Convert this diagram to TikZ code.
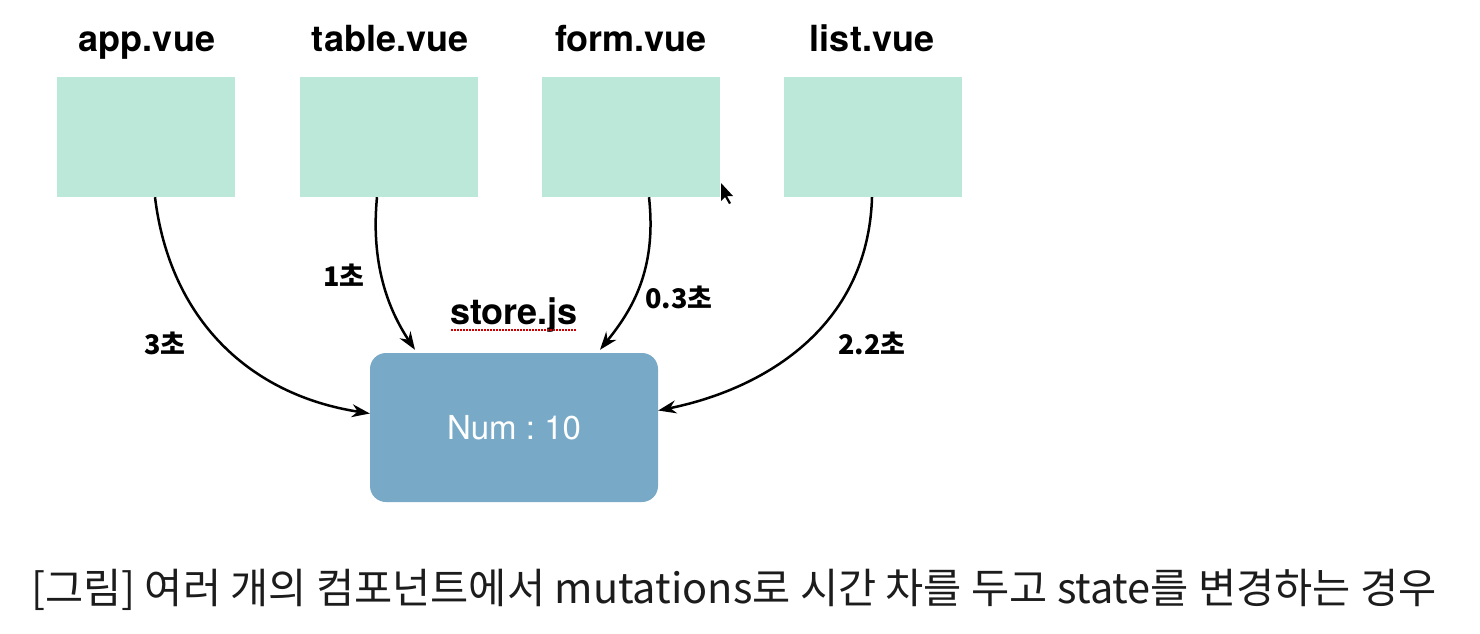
\documentclass[tikz,border=0pt]{standalone}
\usepackage{fontspec}
\setmainfont{TeX Gyre Heros}
\newfontfamily\kr{Noto Sans CJK KR}
\usetikzlibrary{arrows.meta}
\definecolor{boxgreen}{HTML}{BCE8DA}
\definecolor{storeblue}{HTML}{78AAC8}
\definecolor{captext}{HTML}{1C1C1C}
\tikzset{
  comp/.style={fill=boxgreen, minimum width=178pt, minimum height=120pt, inner sep=0pt},
  compname/.style={font=\fontsize{36}{40}\selectfont\bfseries, text=black, anchor=base, inner sep=0pt},
  storebox/.style={fill=storeblue, rounded corners=16pt, minimum width=288pt, minimum height=149pt, inner sep=0pt, text=white, font=\fontsize{33}{36}\selectfont\frenchspacing},
  flow/.style={line width=2.5pt, -{Stealth[length=18pt,width=13pt]}},
  timelbl/.style={font=\kr\fontsize{27}{30}\selectfont\bfseries, text=black},
}
\begin{document}
\begin{tikzpicture}[x=1pt,y=-1pt]
\useasboundingbox[fill=white] (0,0) rectangle (1480,634);
% component boxes
\node[comp] (app) at (146,137) {};
\node[comp] (table) at (389,137) {};
\node[comp] (form) at (631,137) {};
\node[comp] (list) at (873,137) {};
\node[compname] (appn) at (147,52) {app.vue};
\node[compname] (tablen) at (390,52) {table.vue};
\node[compname] (formn) at (631,52) {form.vue};
\node[compname] (listn) at (872,52) {list.vue};
% store
\node[storebox] (store) at (514,427.5) {Num : 10};
\node[font=\fontsize{36}{40}\selectfont\bfseries, anchor=base, inner sep=0pt] (storen) at (514,324) {store.js};
\coordinate (ul1) at (451,330);
\coordinate (ul2) at (577,330);
\draw[red!80!black, line width=1.3pt, dash pattern=on 1.5pt off 1.5pt] (ul1) -- (ul2);
% connectors
\draw[flow] ([xshift=9pt]app.south) .. controls (170,320) and (250,395) .. ([yshift=14pt]store.west);
\draw[flow] ([xshift=-12pt]table.south) .. controls (370,270) and (392,315) .. ([xshift=-99pt,yshift=3pt]store.north);
\draw[flow] ([xshift=18pt]form.south) .. controls (657,270) and (632,310) .. ([xshift=86pt,yshift=3pt]store.north);
\draw[flow] ([xshift=-1pt]list.south) .. controls (868,330) and (760,390) .. ([yshift=17pt]store.east);
% time labels
\node[timelbl] (t3) at (165,343) {3초};
\node[timelbl] (t1) at (344,275) {1초};
\node[timelbl] (t03) at (679,297) {0.3초};
\node[timelbl] (t22) at (872,343) {2.2초};
% cursor
\coordinate (c0) at (721,183);
\fill[black] (c0) -- ++(0,18) -- ++(4,-4) -- ++(4,7) -- ++(2,-1) -- ++(-4,-7) -- ++(6,0) -- cycle;
% caption
\node[font=\kr\fontsize{41.5}{44}\selectfont, text=captext] (cap) at (734,590) {[그림] 여러 개의 컴포넌트에서 mutations로 시간 차를 두고 state를 변경하는 경우};
\end{tikzpicture}
\end{document}
